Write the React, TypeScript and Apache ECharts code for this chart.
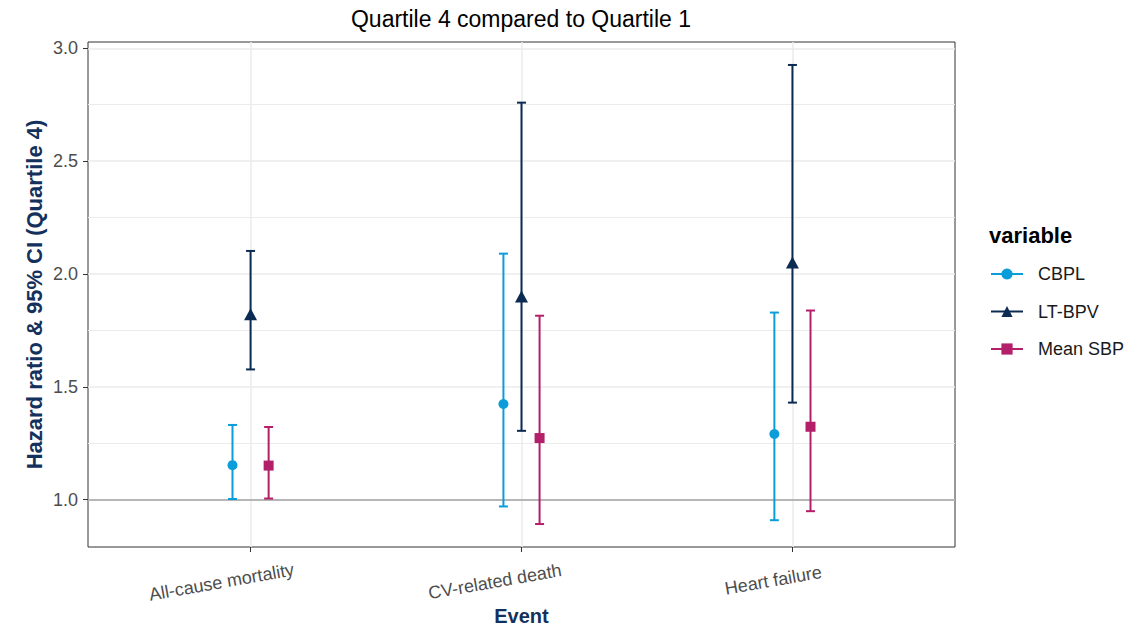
import React, { useEffect, useRef } from 'react';
import * as echarts from 'echarts';

// ---- data ----
const events = ['All-cause mortality', 'CV-related death', 'Heart failure'];
const variables = ['CBPL', 'LT-BPV', 'Mean SBP'];

const cbplHR = [1.153, 1.424, 1.291];
const cbplLow = [1.003, 0.97, 0.909];
const cbplHigh = [1.331, 2.09, 1.829];

const ltbpvHR = [1.822, 1.9, 2.051];
const ltbpvLow = [1.577, 1.305, 1.43];
const ltbpvHigh = [2.102, 2.759, 2.926];

const sbpHR = [1.151, 1.273, 1.323];
const sbpLow = [1.005, 0.892, 0.949];
const sbpHigh = [1.322, 1.815, 1.838];

const yTicks = [1.0, 1.5, 2.0, 2.5, 3.0];
const yMinorGrid = [1.25, 1.75, 2.25, 2.75];
const xTicks = [1, 2, 3];
const referenceLine = 1.0;

const FONT = '"Liberation Sans", Arial, Helvetica, sans-serif';
const COLORS = ['#0b9dd9', '#0c2b52', '#b31f69'];
const SYMBOLS: any[] = ['circle', 'triangle', 'rect'];
const SYMBOL_SIZES: any[] = [10, [13, 12], 10];
const DODGE = [-0.0667, 0, 0.0667];

function measure(text: string, font: string): number {
  const c = document.createElement('canvas');
  const ctx = c.getContext('2d');
  if (!ctx) return text.length * 9;
  ctx.font = font;
  return ctx.measureText(text).width;
}

export default function App() {
  const ref = useRef<HTMLDivElement>(null);

  useEffect(() => {
    if (!ref.current) return;
    const chart = echarts.init(ref.current, undefined, { renderer: 'svg' });

    const hr = [cbplHR, ltbpvHR, sbpHR];
    const lows = [cbplLow, ltbpvLow, sbpLow];
    const highs = [cbplHigh, ltbpvHigh, sbpHigh];

    const allVals = [...lows.flat(), ...highs.flat()];
    const dMin = Math.min(...allVals);
    const dMax = Math.max(...allVals);
    const span = dMax - dMin;
    const yMin = dMin - 0.05 * span;
    const yMax = dMax + 0.05 * span;

    const rich: any = {};
    events.forEach((e, i) => {
      const w = measure(e, `18px ${FONT}`);
      rich['l' + i] = {
        fontSize: 18,
        fontFamily: FONT,
        color: '#4d4d4d',
        padding: [0, Math.round(0.4 * w), 0, 0],
      };
    });

    const errorSeries = variables.map((v, k) => ({
      type: 'custom',
      name: v + ' CI',
      z: 2,
      silent: true,
      data: events.map((_, i) => [i + 1 + DODGE[k], lows[k][i], highs[k][i]]),
      encode: { x: 0, y: [1, 2] },
      renderItem: (params: any, api: any) => {
        const x = api.value(0);
        const lo = api.value(1);
        const hi = api.value(2);
        const top = api.coord([x, hi]);
        const bot = api.coord([x, lo]);
        const hw = 4.5;
        const style = { stroke: COLORS[k], lineWidth: 2 };
        return {
          type: 'group',
          children: [
            { type: 'line', shape: { x1: top[0], y1: top[1], x2: bot[0], y2: bot[1] }, style },
            { type: 'line', shape: { x1: top[0] - hw, y1: top[1], x2: top[0] + hw, y2: top[1] }, style },
            { type: 'line', shape: { x1: bot[0] - hw, y1: bot[1], x2: bot[0] + hw, y2: bot[1] }, style },
          ],
        };
      },
      ...(k === 0
        ? {
            markLine: {
              silent: true,
              symbol: ['none', 'none'],
              label: { show: false },
              z: 1,
              animation: false,
              data: [
                ...yMinorGrid.map((v2) => ({ yAxis: v2, lineStyle: { color: '#ebebeb', width: 1, type: 'solid' } })),
                ...yTicks.map((v2) => ({ yAxis: v2, lineStyle: { color: '#ebebeb', width: 1.5, type: 'solid' } })),
                ...xTicks.map((v2) => ({ xAxis: v2, lineStyle: { color: '#ebebeb', width: 1.5, type: 'solid' } })),
                { yAxis: referenceLine, lineStyle: { color: '#a3a3a3', width: 1.5, type: 'solid' } },
              ],
            },
          }
        : {}),
    }));

    const pointSeries = variables.map((v, k) => ({
      type: 'line',
      name: v,
      z: 3,
      symbol: SYMBOLS[k],
      symbolSize: SYMBOL_SIZES[k],
      showSymbol: true,
      itemStyle: { color: COLORS[k] },
      lineStyle: { color: COLORS[k], width: 2, opacity: 0 },
      data: events.map((_, i) => [i + 1 + DODGE[k], hr[k][i]]),
    }));

    const option: any = {
      animation: false,
      backgroundColor: '#ffffff',
      textStyle: { fontFamily: FONT },
      grid: {
        left: 88,
        top: 42,
        width: 867,
        height: 505,
        show: true,
        outerBoundsMode: 'none',
        containLabel: false,
        borderColor: '#333333',
        borderWidth: 1,
        backgroundColor: '#ffffff',
      },
      graphic: [
        {
          type: 'text',
          x: 521,
          y: 19,
          style: {
            text: 'Quartile 4 compared to Quartile 1',
            font: `23px ${FONT}`,
            fill: '#000000',
            textAlign: 'center',
            textVerticalAlign: 'middle',
          },
        },
        {
          type: 'text',
          x: 989,
          y: 235,
          style: {
            text: 'variable',
            font: `bold 22px ${FONT}`,
            fill: '#000000',
            textAlign: 'left',
            textVerticalAlign: 'middle',
          },
        },
      ],
      legend: {
        orient: 'vertical',
        left: 990,
        top: 265,
        padding: 0,
        itemWidth: 32,
        itemHeight: 14,
        itemGap: 19.5,
        data: variables,
        lineStyle: { opacity: 1, width: 2 },
        textStyle: { fontSize: 18, fontFamily: FONT, color: '#1a1a1a', lineHeight: 18, padding: [0, 0, 0, 10] },
        selectedMode: false,
      },
      xAxis: {
        type: 'value',
        min: 0.4,
        max: 3.6,
        name: 'Event',
        nameLocation: 'middle',
        nameGap: 59,
        nameMoveOverlap: false,
        nameTextStyle: { fontSize: 20, fontWeight: 'bold', color: '#13315c', fontFamily: FONT },
        axisLine: { show: false },
        axisTick: { show: true, length: 5, customValues: xTicks, lineStyle: { color: '#333333', width: 1 } },
        splitLine: { show: false },
        axisLabel: {
          customValues: xTicks,
          rotate: 10,
          align: 'center',
          verticalAlign: 'middle',
          margin: 30,
          formatter: (val: number) => {
            const i = Math.round(val) - 1;
            return events[i] ? `{l${i}|${events[i]}}` : '';
          },
          rich,
        },
      },
      yAxis: {
        type: 'value',
        min: yMin,
        max: yMax,
        name: 'Hazard ratio & 95% CI (Quartile 4)',
        nameLocation: 'middle',
        nameGap: 43,
        nameRotate: 90,
        nameMoveOverlap: false,
        nameTextStyle: { fontSize: 22, fontWeight: 'bold', color: '#13315c', fontFamily: FONT },
        axisLine: { show: false },
        axisTick: { show: true, length: 5, customValues: yTicks, lineStyle: { color: '#333333', width: 1 } },
        splitLine: { show: false },
        axisLabel: {
          customValues: yTicks,
          margin: 10,
          fontSize: 18,
          color: '#4d4d4d',
          fontFamily: FONT,
          formatter: (val: number) => val.toFixed(1),
        },
      },
      series: [...errorSeries, ...pointSeries],
    };

    chart.setOption(option);
    return () => chart.dispose();
  }, []);

  return (
    <div
      ref={ref}
      style={{ position: 'absolute', left: 0, top: 0, width: 1142, height: 627, background: '#fff' }}
    />
  );
}
